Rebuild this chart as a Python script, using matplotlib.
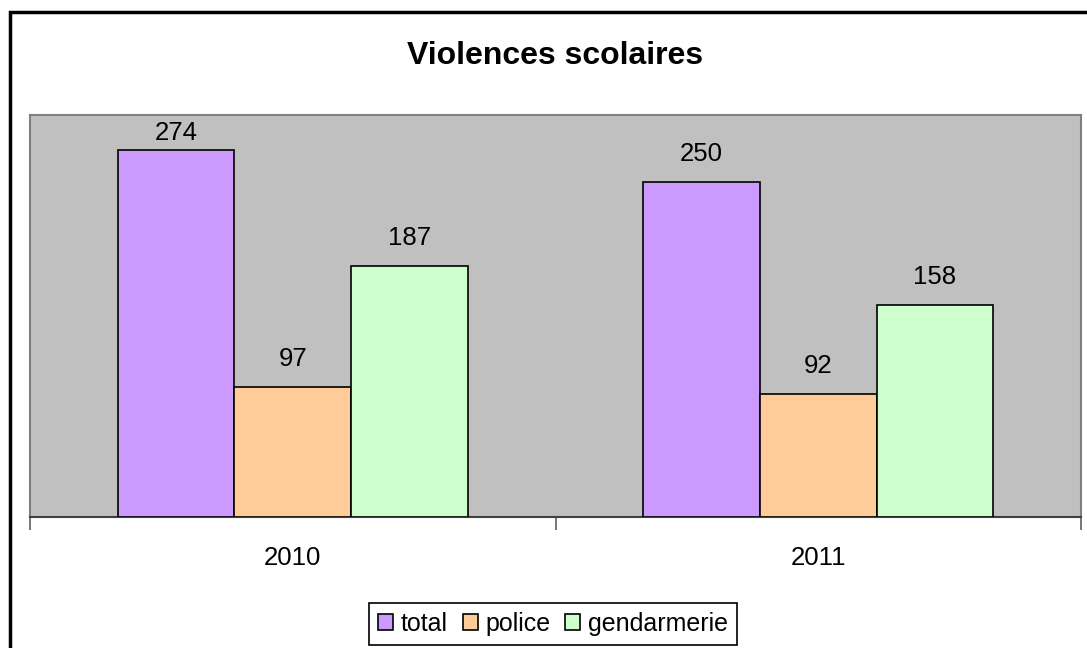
import matplotlib
matplotlib.use("Agg")
import matplotlib.pyplot as plt
from matplotlib.patches import Rectangle
import numpy as np

plt.rcParams['font.family'] = ['Liberation Sans', 'DejaVu Sans']

years = ["2010", "2011"]
series_names = ["total", "police", "gendarmerie"]
total = [274, 250]
police = [97, 92]
gendarmerie = [187, 158]
colors = ["#CC99FF", "#FFCC99", "#CCFFCC"]

W, H = 1087, 648
fig = plt.figure(figsize=(W / 100, H / 100), dpi=100)
ax = fig.add_axes([30 / W, 131 / H, 1051 / W, 402 / H])
ax.set_facecolor("#C0C0C0")

ymax = 300
x = np.arange(len(years))
width = 1 / 4.5
for i, (vals, name, col) in enumerate(zip([total, police, gendarmerie], series_names, colors)):
    pos = x + (i - 1) * width
    bars = ax.bar(pos, vals, width, color=col, edgecolor="black", linewidth=1.2, label=name, zorder=3)
    for b, v in zip(bars, vals):
        # label sits above the bar, but stays inside the plot area
        ax.text(b.get_x() + b.get_width() / 2, min(v + 21, ymax - 13.5), str(v),
                ha="center", va="center", fontsize=18.5)

ax.set_xlim(-0.5, len(years) - 0.5)
ax.set_ylim(0, ymax)
ax.set_yticks([])
ax.set_xticks(x)
ax.set_xticklabels(years, fontsize=18.5)
ax.tick_params(axis="x", which="major", length=0, pad=21)
ax.set_xticks(np.arange(-0.5, len(years)), minor=True)
ax.tick_params(axis="x", which="minor", length=9, width=1.2, color="#606060", direction="out")

for side in ["left", "top", "right"]:
    ax.spines[side].set_color("#808080")
    ax.spines[side].set_linewidth(1.5)
ax.spines["bottom"].set_color("#404040")
ax.spines["bottom"].set_linewidth(1.5)

fig.text(555 / W, 1 - 56 / H, "Violences scolaires", ha="center", va="center",
         fontsize=23, fontweight="bold")

leg = ax.legend(loc="center", bbox_to_anchor=(553 / W, 1 - 624 / H),
                bbox_transform=fig.transFigure, ncol=3, fontsize=18,
                handlelength=0.6, handleheight=0.6, handletextpad=0.3,
                columnspacing=0.6, borderpad=0.35, fancybox=False, framealpha=1)
leg.get_frame().set_edgecolor("black")
leg.get_frame().set_linewidth(1.2)

fig.patches.append(Rectangle((10 / W, -0.1), 1.2, 636 / H + 0.1, transform=fig.transFigure,
                             fill=False, edgecolor="black", linewidth=2.5))

fig.savefig("out.png", dpi=100)
